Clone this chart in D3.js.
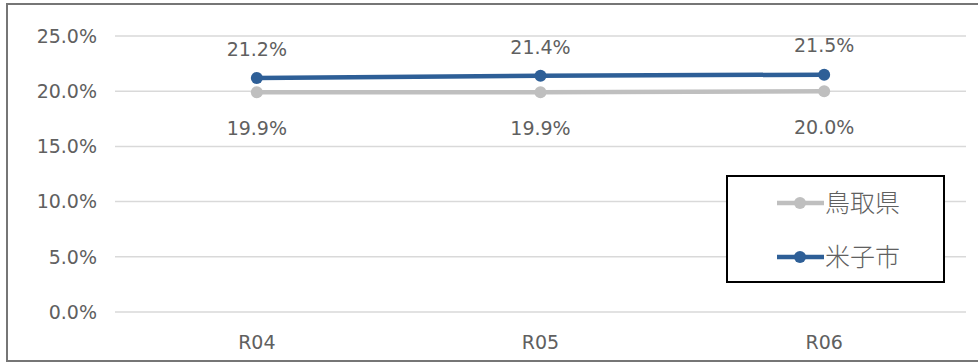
<!DOCTYPE html>
<html>
<head>
<meta charset="utf-8">
<script src="https://cdn.jsdelivr.net/npm/d3@7"></script>
<style>
  body { margin: 0; background: #fff; }
  text { font-family: "DejaVu Sans", "Noto Sans CJK JP", sans-serif; fill: #606060; }
  .cjk { font-family: "Noto Sans CJK JP", sans-serif; font-weight: 300; }
</style>
</head>
<body>
<svg id="grafico"></svg>
<script>
// Dados do gráfico
var categorias = ['R04', 'R05', 'R06'];
var tottori = [19.9, 19.9, 20.0];
var yonago = [21.2, 21.4, 21.5];
var ticksY = [0, 5, 10, 15, 20, 25];
var nomesSeries = ['鳥取県', '米子市'];

var largura = 978, altura = 363;
var svg = d3.select('#grafico')
            .attr('width', largura)
            .attr('height', altura);

// Moldura externa
svg.append('rect')
   .attr('x', 7).attr('y', 4)
   .attr('width', 980).attr('height', 357)
   .attr('fill', '#fff')
   .attr('stroke', '#767676')
   .attr('stroke-width', 2);

var margem = { esquerda: 115, direita: 12, superior: 36, inferior: 51 };
var x = d3.scaleBand()
          .domain(categorias)
          .range([margem.esquerda, largura - margem.direita]);
var y = d3.scaleLinear()
          .domain([0, 25])
          .range([altura - margem.inferior, margem.superior]);

// Linhas de grade
svg.append('g')
   .selectAll('line')
   .data(ticksY)
   .enter()
   .append('line')
   .attr('x1', margem.esquerda)
   .attr('x2', largura - margem.direita)
   .attr('y1', d => y(d))
   .attr('y2', d => y(d))
   .attr('stroke', '#d9d9d9')
   .attr('stroke-width', 1.5);

// Rótulos do eixo Y
svg.append('g')
   .selectAll('text')
   .data(ticksY)
   .enter()
   .append('text')
   .attr('x', 97)
   .attr('y', d => y(d))
   .attr('dy', '0.36em')
   .attr('text-anchor', 'end')
   .style('font-size', '19px')
   .text(d => d.toFixed(1) + '%');

// Rótulos do eixo X
svg.append('g')
   .selectAll('text')
   .data(categorias)
   .enter()
   .append('text')
   .attr('x', d => x(d) + x.bandwidth() / 2)
   .attr('y', 342)
   .attr('dy', '0.36em')
   .attr('text-anchor', 'middle')
   .style('font-size', '19px')
   .text(d => d);

var series = [
  { nome: nomesSeries[0], valores: tottori, cor: '#bfbfbf', dy: 36 },
  { nome: nomesSeries[1], valores: yonago, cor: '#2e5f97', dy: -29 }
];

var linha = d3.line()
              .x((d, i) => x(categorias[i]) + x.bandwidth() / 2)
              .y(d => y(d));

series.forEach(function(s) {
  svg.append('path')
     .datum(s.valores)
     .attr('d', linha)
     .attr('fill', 'none')
     .attr('stroke', s.cor)
     .attr('stroke-width', 4.5)
     .attr('stroke-linecap', 'round');
  svg.append('g')
     .selectAll('circle')
     .data(s.valores)
     .enter()
     .append('circle')
     .attr('cx', (d, i) => x(categorias[i]) + x.bandwidth() / 2)
     .attr('cy', d => y(d))
     .attr('r', 6)
     .attr('fill', s.cor);
  svg.append('g')
     .selectAll('text')
     .data(s.valores)
     .enter()
     .append('text')
     .attr('x', (d, i) => x(categorias[i]) + x.bandwidth() / 2)
     .attr('y', d => y(d) + s.dy)
     .attr('dy', '0.36em')
     .attr('text-anchor', 'middle')
     .style('font-size', '19px')
     .text(d => d.toFixed(1) + '%');
});

// Legenda
var legenda = svg.append('g');
legenda.append('rect')
       .attr('x', 727).attr('y', 176)
       .attr('width', 217).attr('height', 106)
       .attr('fill', '#fff')
       .attr('stroke', '#000')
       .attr('stroke-width', 2);
series.forEach(function(s, i) {
  var ly = 203 + i * 54;
  legenda.append('line')
         .attr('x1', 777).attr('x2', 824)
         .attr('y1', ly).attr('y2', ly)
         .attr('stroke', s.cor)
         .attr('stroke-width', 4.5);
  legenda.append('circle')
         .attr('cx', 800).attr('cy', ly)
         .attr('r', 6)
         .attr('fill', s.cor);
  legenda.append('text')
         .classed('cjk', true)
         .attr('x', 825).attr('y', ly)
         .attr('dy', '0.36em')
         .style('font-size', '25px')
         .text(s.nome);
});
</script>
</body>
</html>
